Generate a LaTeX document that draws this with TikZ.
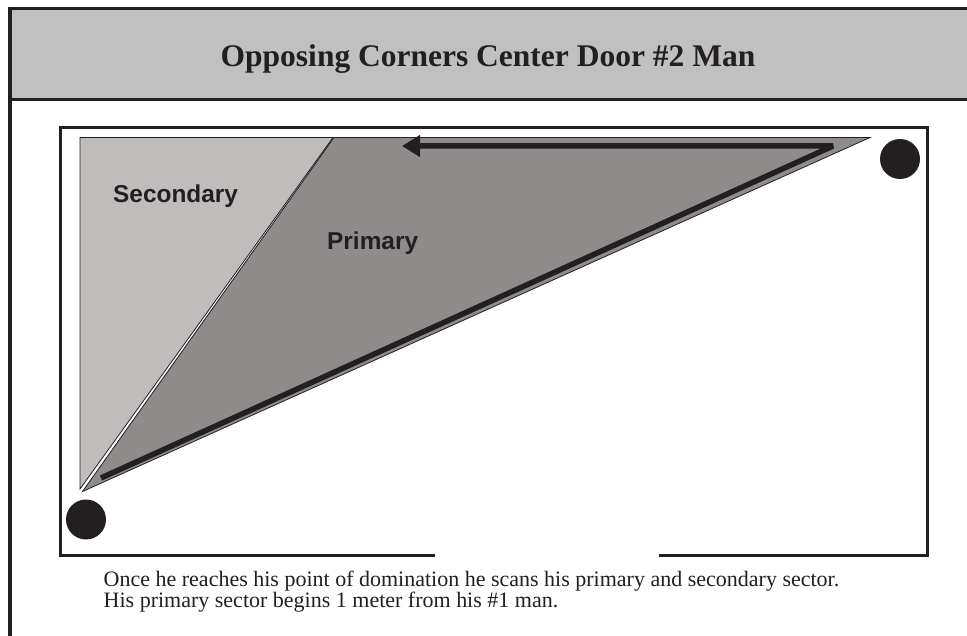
\documentclass[tikz,border=0pt]{standalone}
\usepackage{fontspec}
\setmainfont{Liberation Serif}
\newfontfamily\labelfont{Liberation Sans}
\usetikzlibrary{arrows.meta}
\definecolor{ink}{HTML}{231F20}
\definecolor{headgray}{HTML}{C0C0C0}
\definecolor{secgray}{HTML}{BEBDBC}
\definecolor{primgray}{HTML}{8F8B8A}
\tikzset{
  frameline/.style={draw=ink, line width=3.6pt},
  roomline/.style={draw=ink, line width=3pt, line join=miter},
  sectorline/.style={draw=ink, line width=0.8pt},
  person/.style={circle, fill=ink, minimum size=40pt, inner sep=0pt},
  sectorlabel/.style={font=\labelfont\bfseries\fontsize{24.4}{29}\selectfont, text=ink, anchor=base west, inner sep=0pt},
  pathline/.style={draw=ink, line width=5.5pt, line join=bevel, -{Triangle[length=18pt,width=21pt]}}
}
\begin{document}
\begin{tikzpicture}[x=1pt,y=-1pt]
\useasboundingbox (0,0) rectangle (967,636);
\fill[white] (0,0) rectangle (967,636);
% header band
\fill[headgray] (10,8.7) rectangle (967,99.5);
\draw[frameline] (967,8.7) -- (10,8.7) -- (10,636);
\draw[draw=ink, line width=3pt] (10,99.5) -- (967,99.5);
\node[font=\bfseries\fontsize{31.5}{36}\selectfont, text=ink, anchor=base, inner sep=0pt] (title) at (488,67) {Opposing Corners Center Door \#2 Man};
% sectors
\filldraw[fill=secgray, sectorline] (80,137.5) -- (333,137.5) -- (80,489) -- cycle;
\filldraw[fill=primgray, sectorline] (82.5,491.5) -- (334,137.5) -- (870,137.5) -- cycle;
% room with door gap
\draw[roomline] (435,555.5) -- (60,555.5) -- (60,128) -- (927.5,128) -- (927.5,555.5) -- (659,555.5);
% movement path
\coordinate (pstart) at (101,478);
\coordinate (pturn) at (833,146);
\coordinate (pend) at (402,146);
\draw[pathline] (pstart) -- (pturn) -- (pend);
% persons
\node[person] (man1) at (900,159) {};
\node[person] (man2) at (86,519.5) {};
% labels
\node[sectorlabel] (sec) at (113,203) {Secondary};
\node[sectorlabel] (prim) at (327,250) {Primary};
% caption
\node[anchor=base west, inner sep=0pt, text=ink, align=left, font=\fontsize{22}{18.5}\selectfont] (caption) at (103.5,607.5) {Once he reaches his point of domination he scans his primary and secondary sector.\\His primary sector begins 1 meter from his \#1 man.};
\end{tikzpicture}
\end{document}
